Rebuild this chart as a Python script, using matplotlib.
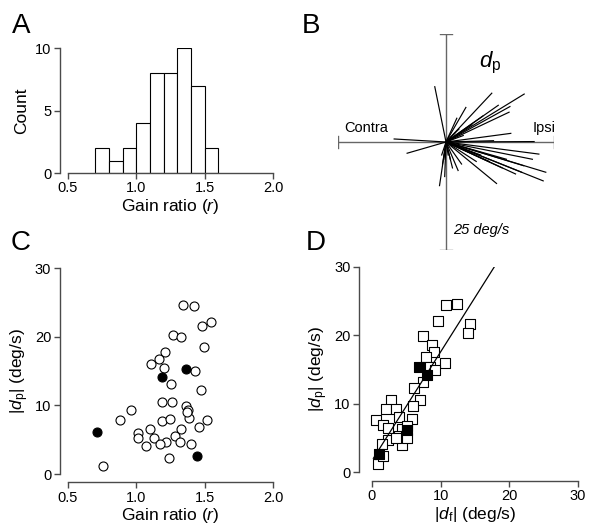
import matplotlib
matplotlib.use("Agg")
import matplotlib.pyplot as plt
import numpy as np

plt.rcParams['font.family'] = ['Liberation Sans', 'DejaVu Sans']
plt.rcParams['mathtext.fontset'] = 'custom'
plt.rcParams['mathtext.rm'] = 'Liberation Sans'
plt.rcParams['mathtext.it'] = 'Liberation Sans:italic'

# ---- Panel A: histogram of gain ratio ----
hist_edges = [0.7, 0.8, 0.9, 1.0, 1.1, 1.2, 1.3, 1.4, 1.5, 1.6]
hist_counts = [2, 1, 2, 4, 8, 8, 10, 7, 2]

# ---- Panel B: d_p vectors (deg/s), horizontal (ipsi +) and vertical ----
vec_dx = [-2.6, 10.6, 18.1, 12.1, 14.6, 14.8, 4.6, 15.0, 20.4, 21.5, 23.1, 22.5,
          16.1, 11.7, 2.8, 3.6, -1.5, -0.8, -9.0, -12.0, 18.0, 14.0, 8.0, 10.0,
          6.0, 3.0, 1.0, 0.5, -0.5, 5.0, 2.5, 8.5, 13.0, 17.5, 20.0, 1.5, -0.3, 4.0,
          7.0, 2.0, -1.0, 11.0]
vec_dy = [12.8, 11.3, 11.1, 8.5, 6.9, 8.2, 8.0, 2.0, 0.1, -2.8, -7.0, -9.0,
          -7.4, -9.6, -6.6, -5.1, -10.1, -5.1, -2.6, 0.7, -5.5, -4.0, -3.0, -4.5,
          4.0, 3.0, -4.0, -3.0, -4.0, -2.0, 5.5, 6.0, -6.0, -7.0, -4.0, -6.0, -8.0, 1.5,
          -4.5, 2.0, -3.0, 0.3]

# ---- Panel C: |d_p| vs gain ratio ----
c_open_x = [1.339, 1.42, 1.546, 1.478, 1.268, 1.324, 1.498, 1.21, 1.163, 1.11, 1.205,
            1.427, 1.254, 1.476, 1.188, 1.261, 1.363, 1.38, 0.963, 1.385, 0.88, 1.188,
            1.246, 1.517, 1.456, 1.10, 1.329, 1.01, 1.01, 1.127, 1.285, 1.22, 1.322,
            1.176, 1.398, 1.07, 1.241, 0.759, 1.37]
c_open_y = [24.66, 24.5, 22.1, 21.6, 20.3, 19.9, 18.5, 17.7, 16.7, 16.0, 15.4,
            15.0, 13.1, 12.3, 10.5, 10.5, 9.9, 9.3, 9.3, 8.2, 7.8, 7.7,
            8.0, 7.8, 6.9, 6.6, 6.5, 6.0, 5.3, 5.2, 5.5, 4.7, 4.6,
            4.3, 4.4, 4.1, 2.3, 1.2, 9.0]
c_fill_x = [0.71, 1.188, 1.366, 1.446]
c_fill_y = [6.07, 14.1, 15.3, 2.67]

# ---- Panel D: |d_p| vs |d_f| ----
d_open_x = [10.83, 12.4, 14.3, 13.96, 9.66, 7.43, 8.7, 9.0, 7.8, 10.6, 8.4, 9.2,
            7.4, 6.1, 7.0, 2.7, 2.0, 3.45, 5.9, 3.9, 5.8, 0.63, 1.55, 2.3, 4.4,
            5.1, 4.0, 2.3, 1.5, 4.3, 5.0, 5.1, 0.87, 1.55, 3.5]
d_open_y = [24.4, 24.6, 21.6, 20.3, 22.1, 19.9, 18.6, 17.6, 16.8, 16.0, 15.4, 15.0,
            13.1, 12.3, 10.5, 10.5, 9.2, 9.2, 9.7, 8.0, 7.8, 7.6, 6.9, 6.4, 6.3,
            6.7, 5.2, 4.7, 4.1, 4.0, 5.2, 5.0, 1.2, 2.3, 5.0]
d_fill_x = [6.84, 8.0, 5.15, 1.02]
d_fill_y = [15.4, 14.2, 6.1, 2.6]
fit_x = [0.2, 17.8]
fit_y = [2.0, 30.0]

W, H = 601, 531
fig = plt.figure(figsize=(W / 100, H / 100), dpi=100)

def px_axes(left, top, right, bottom):
    return fig.add_axes([left / W, 1 - bottom / H, (right - left) / W, (bottom - top) / H])

axis_col = '#4a4a4a'
tick_fs = 10.5
lab_fs = 12.5

def style(ax, left_out, bottom_out):
    for s in ['top', 'right']:
        ax.spines[s].set_visible(False)
    ax.spines['left'].set_position(('outward', left_out))
    ax.spines['bottom'].set_position(('outward', bottom_out))
    for s in ['left', 'bottom']:
        ax.spines[s].set_color(axis_col)
        ax.spines[s].set_linewidth(1.0)
    ax.tick_params(direction='out', length=4, width=1.0, color=axis_col,
                   labelsize=tick_fs, pad=2)

# Panel A
axA = px_axes(68, 48, 273, 173)
widths = np.diff(hist_edges)
axA.bar(hist_edges[:-1], hist_counts, width=widths, align='edge',
        facecolor='white', edgecolor='black', linewidth=0.8)
axA.set_xlim(0.5, 2.0)
axA.set_ylim(0, 10)
axA.set_xticks([0.5, 1.0, 1.5, 2.0])
axA.set_yticks([0, 5, 10])
style(axA, 6, 0)
axA.set_ylabel('Count', fontsize=lab_fs, labelpad=4)
axA.set_xlabel(r'Gain ratio ($\mathit{r}$)', fontsize=lab_fs, labelpad=1)

# Panel B
axB = px_axes(338, 34, 554, 250)
axB.set_xlim(-25, 25)
axB.set_ylim(-25, 25)
axB.axis('off')
cross_col = '#666666'
axB.plot([-25, 25], [0, 0], color=cross_col, lw=1.0)
axB.plot([0, 0], [-25, 25], color=cross_col, lw=1.0)
cap = 1.3
for v in (-25, 25):
    axB.plot([v, v], [-cap, cap], color=cross_col, lw=1.0)
    axB.plot([-cap, cap], [v, v], color=cross_col, lw=1.0)
for dx, dy in zip(vec_dx, vec_dy):
    axB.plot([0, dx], [0, dy], color='black', lw=0.85)
axB.text(-23.6, 3.2, 'Contra', fontsize=10.5, ha='left', va='center')
axB.text(25.3, 3.2, 'Ipsi', fontsize=10.5, ha='right', va='center')
axB.text(10.2, 18.3, r'$\mathit{d}_{\mathrm{p}}$', fontsize=16, ha='center', va='center')
axB.text(1.6, -20.4, '25 deg/s', fontsize=10.5, style='italic', ha='left', va='center')

# Panel C
axC = px_axes(68, 268, 273, 474)
axC.scatter(c_open_x, c_open_y, s=42, facecolors='white', edgecolors='black',
            linewidths=0.8, zorder=3, clip_on=False)
axC.scatter(c_fill_x, c_fill_y, s=42, facecolors='black', edgecolors='black',
            linewidths=0.8, zorder=4, clip_on=False)
axC.set_xlim(0.5, 2.0)
axC.set_ylim(0, 30)
axC.set_xticks([0.5, 1.0, 1.5, 2.0])
axC.set_yticks([0, 10, 20, 30])
style(axC, 6, 6)
axC.set_ylabel(r'$|\mathit{d}_{\mathrm{p}}|$ (deg/s)', fontsize=lab_fs, labelpad=3)
axC.set_xlabel(r'Gain ratio ($\mathit{r}$)', fontsize=lab_fs, labelpad=1)

# Panel D
axD = px_axes(372, 267, 578, 472)
axD.scatter(d_open_x, d_open_y, s=50, marker='s', facecolors='white',
            edgecolors='black', linewidths=0.8, zorder=3, clip_on=False)
axD.scatter(d_fill_x, d_fill_y, s=50, marker='s', facecolors='black',
            edgecolors='black', linewidths=0.8, zorder=4, clip_on=False)
axD.plot(fit_x, fit_y, color='black', lw=0.9, zorder=5)
axD.set_xlim(0, 30)
axD.set_ylim(0, 30)
axD.set_xticks([0, 10, 20, 30])
axD.set_yticks([0, 10, 20, 30])
style(axD, 9.5, 6.5)
axD.set_ylabel(r'$|\mathit{d}_{\mathrm{p}}|$ (deg/s)', fontsize=lab_fs, labelpad=3)
axD.set_xlabel(r'$|\mathit{d}_{\mathrm{f}}|$ (deg/s)', fontsize=lab_fs, labelpad=1)

# Panel letters
for lab, x, y in [('A', 12, 26), ('B', 302, 26), ('C', 11, 243), ('D', 306, 243)]:
    fig.text(x / W, 1 - y / H, lab, fontsize=20, ha='left', va='center')

fig.savefig('out.png', dpi=100, facecolor='white')
